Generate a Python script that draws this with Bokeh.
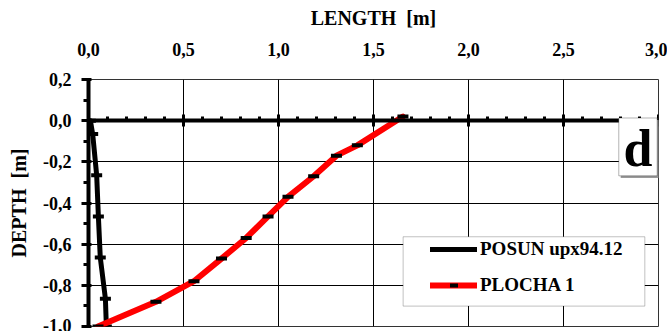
from bokeh.plotting import figure
from bokeh.models import LinearAxis, FixedTicker, BoxAnnotation, Label, Range1d
from bokeh.embed import file_html
from bokeh.resources import INLINE

# ---------------- data ----------------
posun_length = [0.010, 0.022, 0.043, 0.052, 0.062, 0.089, 0.094]
posun_depth = [0.00, -0.065, -0.265, -0.465, -0.665, -0.865, -1.00]

plocha_length = [0.05, 0.355, 0.555, 0.700, 0.830, 0.945, 1.050, 1.185, 1.305, 1.415, 1.655]
plocha_depth = [-1.00, -0.88, -0.78, -0.67, -0.57, -0.465, -0.37, -0.27, -0.17, -0.12, 0.02]

x_ticks = [0.0, 0.5, 1.0, 1.5, 2.0, 2.5, 3.0]
x_tick_labels = ["0,0", "0,5", "1,0", "1,5", "2,0", "2,5", "3,0"]
x_minor_ticks = [0.1, 0.2, 0.3, 0.4, 0.6, 0.7, 0.8, 0.9, 1.1, 1.2, 1.3, 1.4,
                 1.6, 1.7, 1.8, 1.9, 2.1, 2.2, 2.3, 2.4, 2.6, 2.7, 2.8, 2.9]
y_ticks = [0.2, 0.0, -0.2, -0.4, -0.6, -0.8, -1.0]
y_tick_labels = ["0,2", "0,0", "-0,2", "-0,4", "-0,6", "-0,8", "-1,0"]
y_minor_ticks = [0.1, -0.1, -0.3, -0.5, -0.7, -0.9]

FONT = "Liberation Serif"

p = figure(width=667, height=331, x_axis_location="above",
           x_range=Range1d(0.0, 3.0), y_range=Range1d(-1.0, 0.2),
           output_backend="svg", toolbar_location=None,
           min_border_left=88, min_border_right=9, min_border_top=79, min_border_bottom=5)
p.background_fill_color = "white"
p.border_fill_color = "white"
p.outline_line_color = "#333333"
p.outline_line_width = 1

# top axis (labels only)
xa = p.xaxis[0]
xa.ticker = FixedTicker(ticks=x_ticks)
xa.major_label_overrides = dict(zip(x_ticks, x_tick_labels))
xa.axis_line_color = None
xa.major_tick_line_color = None
xa.minor_tick_line_color = None
xa.major_tick_out = 0
xa.major_tick_in = 0
xa.major_label_standoff = 24
xa.major_label_text_font = FONT
xa.major_label_text_font_style = "bold"
xa.major_label_text_font_size = "18px"
xa.major_label_text_color = "black"
xa.axis_label = "LENGTH\u00a0 [m]"
xa.axis_label_text_font = FONT
xa.axis_label_text_font_style = "bold"
xa.axis_label_text_font_size = "20px"
xa.axis_label_text_color = "black"
xa.axis_label_standoff = 11

# axis crossing at depth 0 (no labels of its own)
x0 = LinearAxis(fixed_location=0.0,
                ticker=FixedTicker(ticks=x_ticks, minor_ticks=x_minor_ticks),
                major_label_overrides={t: "" for t in x_ticks},
                major_label_text_color=None, major_label_standoff=0,
                axis_line_width=4, axis_line_color="black",
                major_tick_in=6, major_tick_out=6, major_tick_line_width=3,
                major_tick_line_color="black",
                minor_tick_in=4, minor_tick_out=0, minor_tick_line_width=3,
                minor_tick_line_color="black")
p.add_layout(x0, "below")

# left axis
ya = p.yaxis[0]
ya.ticker = FixedTicker(ticks=y_ticks, minor_ticks=y_minor_ticks)
ya.major_label_overrides = dict(zip(y_ticks, y_tick_labels))
ya.axis_line_width = 4
ya.axis_line_color = "black"
ya.major_tick_out = 7
ya.major_tick_in = 3
ya.major_tick_line_width = 3
ya.major_tick_line_color = "black"
ya.minor_tick_out = 5
ya.minor_tick_in = 0
ya.minor_tick_line_width = 3
ya.minor_tick_line_color = "black"
ya.major_label_standoff = 10
ya.major_label_text_font = FONT
ya.major_label_text_font_style = "bold"
ya.major_label_text_font_size = "18px"
ya.major_label_text_color = "black"
ya.axis_label = "DEPTH\u00a0 [m]"
ya.axis_label_text_font = FONT
ya.axis_label_text_font_style = "bold"
ya.axis_label_text_font_size = "20px"
ya.axis_label_text_color = "black"
ya.axis_label_standoff = 10

# grids
p.xgrid.ticker = FixedTicker(ticks=x_ticks)
p.ygrid.ticker = FixedTicker(ticks=y_ticks)
for g in (p.xgrid[0], p.ygrid[0]):
    g.grid_line_color = "black"
    g.grid_line_width = 1
    g.grid_line_alpha = 1.0

# legend background box
legend_box = BoxAnnotation(left=1.656, right=2.928, top=-0.564, bottom=-0.901,
                           fill_color="white", fill_alpha=1.0,
                           line_color="#333333", line_width=1)
p.add_layout(legend_box)

# "d" panel label with a light shadow
d_shadow = BoxAnnotation(left=2.801, right=3.003, top=0.003, bottom=-0.278,
                         fill_color="#9a9a9a", fill_alpha=1.0, line_color=None)
p.add_layout(d_shadow)
d_box = BoxAnnotation(left=2.791, right=2.993, top=0.013, bottom=-0.268,
                      fill_color="white", fill_alpha=1.0,
                      line_color="black", line_width=1)
p.add_layout(d_box)
d_label = Label(x=2.892, y=-0.135, text="d", text_font=FONT, text_font_style="bold",
                text_font_size="52px", text_align="center", text_baseline="alphabetic",
                text_color="black")
p.add_layout(d_label)

# series
p.line(posun_length, posun_depth, line_color="black", line_width=5,
       line_join="round", line_cap="round", legend_label="POSUN upx94.12")
p.scatter(posun_length, posun_depth, marker="dash", size=11, line_color="black",
          line_width=4, legend_label="POSUN upx94.12")
p.line(plocha_length, plocha_depth, line_color="#ff0000", line_width=6,
       line_join="round", line_cap="round", legend_label="PLOCHA 1")
p.scatter(plocha_length, plocha_depth, marker="dash", size=11, line_color="black",
          line_width=4, legend_label="PLOCHA 1")

lg = p.legend[0]
lg.location = (342, 30)
lg.margin = 0
lg.padding = 0
lg.spacing = 14
lg.glyph_width = 47
lg.glyph_height = 20
lg.label_height = 20
lg.label_standoff = 3
lg.border_line_color = None
lg.background_fill_alpha = 0.0
lg.label_text_font = FONT
lg.label_text_font_style = "bold"
lg.label_text_font_size = "19px"
lg.label_text_color = "black"

open("out.html", "w").write(file_html(p, INLINE))
